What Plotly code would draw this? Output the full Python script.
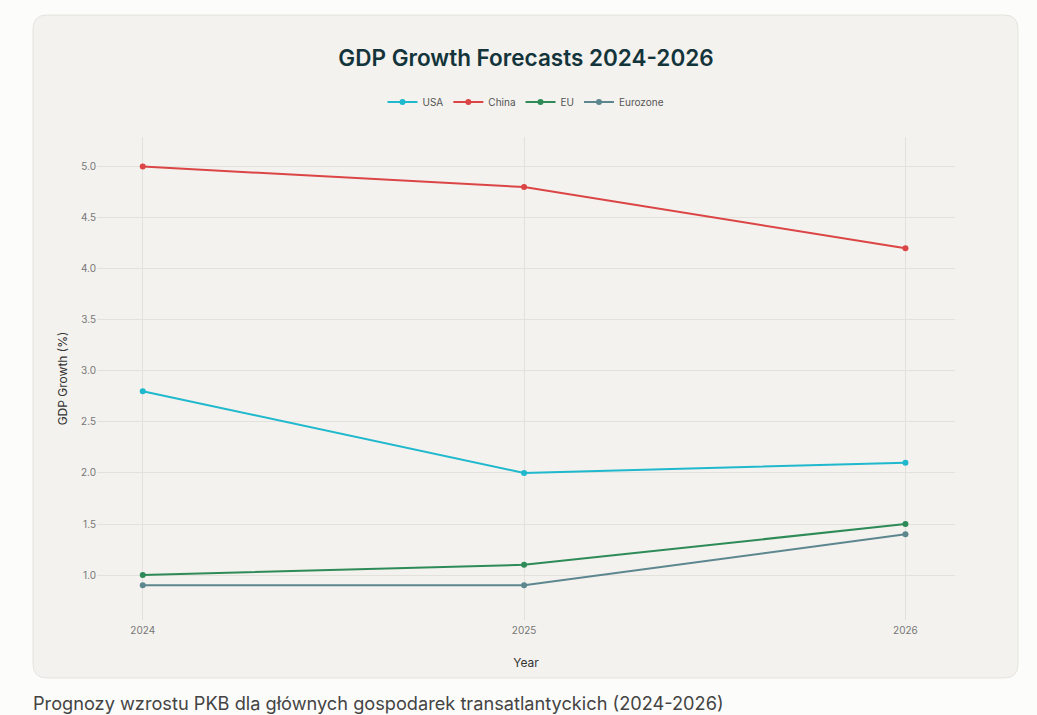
import plotly.graph_objects as go

years = [2024, 2025, 2026]
usa = [2.8, 2.0, 2.1]
china = [5.0, 4.8, 4.2]
eu = [1.0, 1.1, 1.5]
eurozone = [0.9, 0.9, 1.4]

series_names = ["USA", "China", "EU", "Eurozone"]
series_values = [usa, china, eu, eurozone]
series_colors = ["#1FB8CD", "#DB4545", "#2E8B57", "#5D878F"]

title_text = "GDP Growth Forecasts 2024-2026"
caption_text = "Prognozy wzrostu PKB dla głównych gospodarek transatlantyckich (2024-2026)"

W, H = 1037, 715
L, R, T, B = 97, 82, 137, 95
plot_h = H - T - B
FONT = "Inter"

fig = go.Figure()
for name, vals, col in zip(series_names, series_values, series_colors):
    fig.add_trace(go.Scatter(
        x=years, y=vals, name=name, mode="lines+markers",
        line=dict(color=col, width=2), marker=dict(color=col, size=6),
    ))

# card background (pixel coords relative to plot bottom-left)
x0, x1 = 33 - L, 1018 - L
y0, y1 = (H - B) - 678, (H - B) - 15
r = 14
path = (f"M {x0+r},{y0} L {x1-r},{y0} Q {x1},{y0} {x1},{y0+r} "
        f"L {x1},{y1-r} Q {x1},{y1} {x1-r},{y1} L {x0+r},{y1} "
        f"Q {x0},{y1} {x0},{y1-r} L {x0},{y0+r} Q {x0},{y0} {x0+r},{y0} Z")
fig.add_shape(type="path", path=path, xref="paper", yref="paper",
              xsizemode="pixel", ysizemode="pixel", xanchor=0, yanchor=0,
              fillcolor="#F3F2EE", line=dict(color="#E4E3DE", width=1),
              layer="below")

fig.add_annotation(text=caption_text, xref="paper", yref="paper",
                   x=(31 - L) / (W - L - R), y=-(703 - (H - B)) / plot_h,
                   xanchor="left", yanchor="middle", showarrow=False,
                   font=dict(size=18.2, color="#444444", family=FONT))

fig.update_layout(
    width=W, height=H,
    margin=dict(l=L, r=R, t=T, b=B),
    paper_bgcolor="#FCFCFA", plot_bgcolor="#F3F2EE",
    font=dict(family=FONT, color="#555555"),
    title=dict(text=title_text, x=0.5, xref="paper", xanchor="center",
               y=1 - 58 / H, yanchor="middle",
               font=dict(size=22.5, color="#13343B", family=FONT, weight=600)),
    legend=dict(orientation="h", x=0.5, xanchor="center",
                y=1 + 35 / plot_h, yanchor="middle",
                font=dict(size=10, color="#555555"), bgcolor="rgba(0,0,0,0)"),
    xaxis=dict(title=dict(text="Year", font=dict(size=12, color="#333333"), standoff=23),
               tickvals=years, ticktext=[str(y) for y in years],
               range=[2023.88, 2026.13], showgrid=True, gridcolor="#E2E1DC",
               zeroline=False, showline=False, ticks="outside", ticklen=1,
               tickcolor="rgba(0,0,0,0)",
               tickfont=dict(size=10, color="#777777")),
    yaxis=dict(title=dict(text="GDP Growth (%)", font=dict(size=12, color="#333333"), standoff=10),
               range=[0.56, 5.29], dtick=0.5, tickformat=".1f",
               showgrid=True, gridcolor="#E2E1DC", zeroline=False, showline=False,
               tickfont=dict(size=10, color="#777777")),
)

fig.write_html("out.html")
